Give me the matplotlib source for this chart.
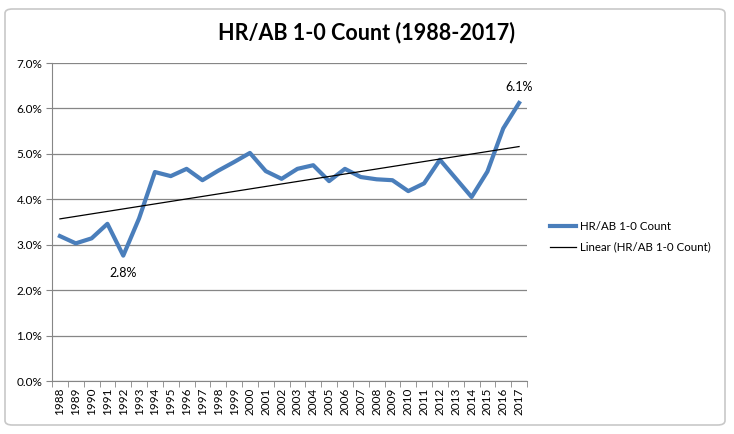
import numpy as np
import matplotlib
matplotlib.use('Agg')
import matplotlib.pyplot as plt
from matplotlib.patches import FancyBboxPatch
from matplotlib.ticker import PercentFormatter

years = list(range(1988, 2018))
hr_ab = [3.19, 3.03, 3.14, 3.46, 2.76, 3.58, 4.60, 4.51, 4.67, 4.42,
         4.63, 4.82, 5.02, 4.62, 4.45, 4.67, 4.75, 4.40, 4.67, 4.49,
         4.44, 4.42, 4.18, 4.35, 4.87, 4.46, 4.05, 4.61, 5.56, 6.12]
series_name = 'HR/AB 1-0 Count'
title = 'HR/AB 1-0 Count (1988-2017)'

plt.rcParams['font.family'] = ['Lato', 'DejaVu Sans']

W, H = 734, 434
fig = plt.figure(figsize=(W / 100, H / 100), dpi=100)

# chart frame
fig.patches.append(FancyBboxPatch((5 / W, 9 / H), 720 / W, 416 / H,
                                  boxstyle='round,pad=0,rounding_size=0.01',
                                  transform=fig.transFigure, facecolor='white',
                                  edgecolor='#c8c8c8', linewidth=1.2, zorder=-1))

ax = fig.add_axes([52 / W, 1 - 381 / H, 475 / W, 318 / H])
x = np.arange(len(years))
y = np.array(hr_ab)

ax.plot(x, y, color='#4a7ebb', linewidth=3, label=series_name, zorder=3)
coef = np.polyfit(x, y, 1)
ax.plot(x, np.polyval(coef, x), color='black', linewidth=0.9,
        label=f'Linear ({series_name})', zorder=4)

ax.annotate(f'{y[4]:.1f}%', (x[4], y[4]), xytext=(0, -8), textcoords='offset points',
            ha='center', va='top', fontsize=9)
ax.annotate(f'{y[-1]:.1f}%', (x[-1], y[-1]), xytext=(0, 7), textcoords='offset points',
            ha='center', va='bottom', fontsize=9)

ax.set_xlim(-0.5, len(years) - 0.5)
ax.set_ylim(0, 7)
ax.set_yticks(np.arange(0, 7.01, 1))
ax.yaxis.set_major_formatter(PercentFormatter(decimals=1))
ax.set_xticks(x)
ax.set_xticklabels([str(yr) for yr in years], rotation=90, fontsize=8.5)
ax.set_xticks(np.arange(-0.5, len(years), 1), minor=True)
ax.tick_params(axis='x', which='major', length=0, pad=5)
ax.tick_params(axis='x', which='minor', length=4, color='#868686', direction='out')
ax.tick_params(axis='y', length=4, color='#868686', labelsize=8.5, pad=3)
ax.grid(axis='y', color='#868686', linewidth=0.9)
ax.set_axisbelow(True)
for s in ['top', 'right']:
    ax.spines[s].set_visible(False)
for s in ['left', 'bottom']:
    ax.spines[s].set_color('#868686')

fig.text(366 / W, 1 - 33 / H, title, ha='center', va='center',
         fontsize=15.5, fontweight='bold')

fig.legend(loc='center left', bbox_to_anchor=(540 / W, 1 - 237 / H), frameon=False,
           fontsize=8.3, handlelength=2.2, handletextpad=0.4, labelspacing=0.8)

fig.savefig('out.png', dpi=100)
